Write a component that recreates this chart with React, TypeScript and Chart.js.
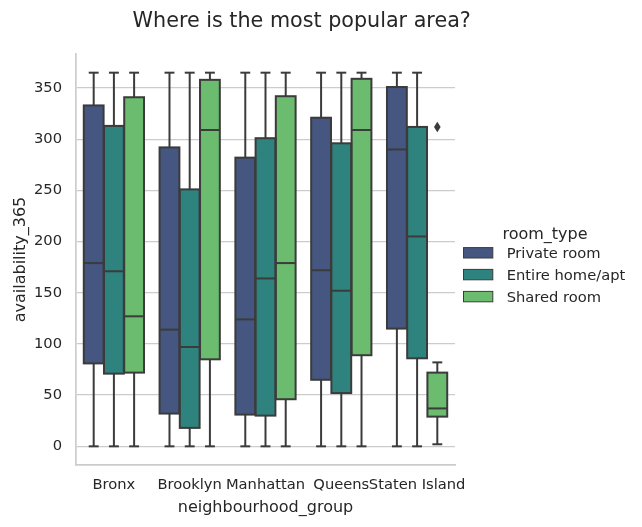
import { useEffect, useRef } from 'react';
import { Chart, registerables } from 'chart.js';

Chart.register(...registerables);

const categories = ['Bronx', 'Brooklyn', 'Manhattan', 'Queens', 'Staten Island'];
const roomTypes = ['Private room', 'Entire home/apt', 'Shared room'];
const boxColors = ['#455681', '#2f837f', '#6bbc6e'];
const lineGray = '#3b3b3b';
const textColor = '#262626';
const yTicks = [0, 50, 100, 150, 200, 250, 300, 350];

const privateMin = [0, 0, 0, 0, 0];
const privateQ1 = [81, 32, 31, 65, 115];
const privateMedian = [179, 114, 124, 172, 290];
const privateQ3 = [333, 292, 282, 321, 351];
const privateMax = [365, 365, 365, 365, 365];
const privateOutliers: number[][] = [[], [], [], [], []];

const entireMin = [0, 0, 0, 0, 0];
const entireQ1 = [71, 18, 30, 52, 86];
const entireMedian = [171, 97, 164, 152, 205];
const entireQ3 = [313, 251, 301, 296, 312];
const entireMax = [365, 365, 365, 365, 365];
const entireOutliers: number[][] = [[], [], [], [], []];

const sharedMin = [0, 0, 0, 0, 2];
const sharedQ1 = [72, 85, 46, 89, 29];
const sharedMedian = [127, 309, 179, 309, 37];
const sharedQ3 = [341, 358, 342, 359, 72];
const sharedMax = [365, 365, 365, 365, 82];
const sharedOutliers: number[][] = [[], [], [], [], [312]];

const series = [
  { min: privateMin, q1: privateQ1, med: privateMedian, q3: privateQ3, max: privateMax, out: privateOutliers },
  { min: entireMin, q1: entireQ1, med: entireMedian, q3: entireQ3, max: entireMax, out: entireOutliers },
  { min: sharedMin, q1: sharedQ1, med: sharedMedian, q3: sharedQ3, max: sharedMax, out: sharedOutliers },
];

const FONT = '"DejaVu Sans", sans-serif';

const boxPlugin = {
  id: 'boxDecor',
  afterDatasetsDraw(chart: any) {
    const ctx = chart.ctx as CanvasRenderingContext2D;
    const ys = chart.scales.y;
    ctx.save();
    ctx.strokeStyle = lineGray;
    ctx.fillStyle = lineGray;
    ctx.lineWidth = 2;
    const line = (x1: number, y1: number, x2: number, y2: number) => {
      ctx.beginPath();
      ctx.moveTo(x1, y1);
      ctx.lineTo(x2, y2);
      ctx.stroke();
    };
    series.forEach((s, i) => {
      const meta = chart.getDatasetMeta(i);
      meta.data.forEach((el: any, j: number) => {
        const { x, width } = el.getProps(['x', 'width'], true);
        const half = width / 2;
        const yMin = ys.getPixelForValue(s.min[j]);
        const yQ1 = ys.getPixelForValue(s.q1[j]);
        const yMed = ys.getPixelForValue(s.med[j]);
        const yQ3 = ys.getPixelForValue(s.q3[j]);
        const yMax = ys.getPixelForValue(s.max[j]);
        ctx.strokeRect(x - half, yQ3, width, yQ1 - yQ3);
        line(x, yQ3, x, yMax);
        line(x, yQ1, x, yMin);
        line(x - half / 2, yMax, x + half / 2, yMax);
        line(x - half / 2, yMin, x + half / 2, yMin);
        line(x - half, yMed, x + half, yMed);
        s.out[j].forEach((v) => {
          const py = ys.getPixelForValue(v);
          ctx.beginPath();
          ctx.moveTo(x, py - 5.2);
          ctx.lineTo(x + 3.3, py);
          ctx.lineTo(x, py + 5.2);
          ctx.lineTo(x - 3.3, py);
          ctx.closePath();
          ctx.fill();
        });
      });
    });
    ctx.restore();
  },
};

const textPlugin = {
  id: 'titleLegend',
  afterDraw(chart: any) {
    const ctx = chart.ctx as CanvasRenderingContext2D;
    ctx.save();
    ctx.fillStyle = textColor;
    ctx.textAlign = 'center';
    ctx.textBaseline = 'alphabetic';
    ctx.font = `20.7px ${FONT}`;
    ctx.fillText('Where is the most popular area?', 301.7, 26.5);

    ctx.font = `16px ${FONT}`;
    ctx.fillText('room_type', 545, 239);

    ctx.font = `14.7px ${FONT}`;
    ctx.textAlign = 'left';
    const rowCenters = [252.8, 274.6, 296.6];
    chart.data.datasets.forEach((ds: any, i: number) => {
      const cy = rowCenters[i];
      ctx.fillStyle = ds.backgroundColor;
      ctx.fillRect(463.5, cy - 5.2, 29.3, 10.4);
      ctx.strokeStyle = lineGray;
      ctx.lineWidth = 1;
      ctx.strokeRect(463.5, cy - 5.2, 29.3, 10.4);
      ctx.fillStyle = textColor;
      ctx.fillText(ds.label, 506.7, cy + 5.4);
    });
    ctx.restore();
  },
};

export default function App() {
  const ref = useRef<HTMLCanvasElement>(null);
  useEffect(() => {
    if (!ref.current) return;
    Chart.defaults.font.family = FONT;
    const chart = new Chart(ref.current, {
      type: 'bar',
      data: {
        labels: categories,
        datasets: series.map((s, i) => ({
          label: roomTypes[i],
          data: categories.map((_, j) => [s.q1[j], s.q3[j]]),
          backgroundColor: boxColors[i],
          borderWidth: 0,
          categoryPercentage: 0.8,
          barPercentage: 0.98,
        })),
      },
      options: {
        responsive: false,
        animation: false,
        layout: { padding: { left: 0, top: 54, right: 187, bottom: 0 } },
        plugins: {
          legend: { display: false },
          tooltip: { enabled: false },
          title: { display: false },
        },
        scales: {
          x: {
            type: 'category',
            grid: { display: false, drawTicks: false },
            border: { display: true, color: '#cccccc', width: 1.7 },
            ticks: {
              padding: 11,
              color: textColor,
              font: { family: FONT, size: 14.7 },
              autoSkip: false,
              maxRotation: 0,
              minRotation: 0,
            },
            title: {
              display: true,
              text: 'neighbourhood_group',
              color: textColor,
              font: { family: FONT, size: 16 },
              padding: { top: 0, bottom: 10 },
            },
            afterFit: (s: any) => {
              s.height = 62;
            },
          },
          y: {
            type: 'linear',
            min: -18.25,
            max: 383.25,
            afterBuildTicks: (s: any) => {
              s.ticks = yTicks.map((v) => ({ value: v }));
            },
            grid: { color: '#cccccc', lineWidth: 1.3, drawTicks: false },
            border: { display: true, color: '#cccccc', width: 1.7 },
            ticks: {
              padding: 14,
              color: textColor,
              font: { family: FONT, size: 14.7 },
            },
            title: {
              display: true,
              text: 'availability_365',
              color: textColor,
              font: { family: FONT, size: 16 },
              padding: { top: 11, bottom: 0 },
            },
            afterFit: (s: any) => {
              s.width = 76;
            },
          },
        },
      },
      plugins: [boxPlugin, textPlugin],
    });
    return () => chart.destroy();
  }, []);
  return (
    <div style={{ position: 'absolute', left: 0, top: 0, width: 642, height: 527, background: '#ffffff' }}>
      <canvas ref={ref} width={642} height={527} style={{ display: 'block' }} />
    </div>
  );
}
